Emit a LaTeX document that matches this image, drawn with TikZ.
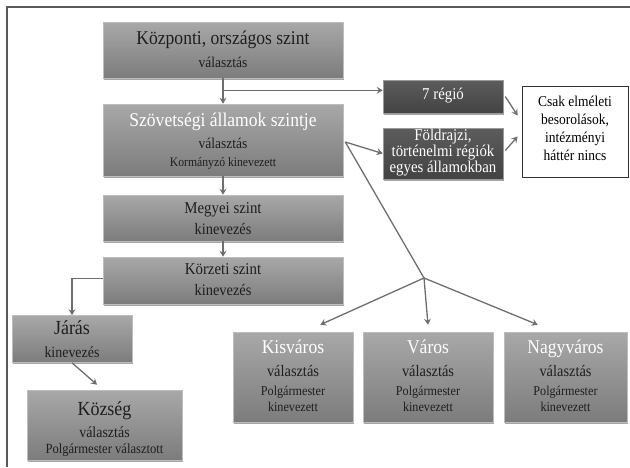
\documentclass[tikz,border=0pt]{standalone}
\usepackage{fontspec}
\setmainfont[FakeStretch=0.9]{Liberation Serif}
\usetikzlibrary{arrows.meta,shadows,calc}
\definecolor{boxtop}{HTML}{A8A8A8}
\definecolor{boxbot}{HTML}{7C7C7C}
\definecolor{boxline}{HTML}{BDBDBD}
\definecolor{dktop}{HTML}{5C5C5C}
\definecolor{dkbot}{HTML}{434343}
\definecolor{dkline}{HTML}{9A9A9A}
\definecolor{conn}{HTML}{6E6E6E}
\definecolor{txt}{HTML}{1E1E1E}
\definecolor{framec}{HTML}{5A5A5A}
\tikzset{
  mbox/.style={rectangle, inner sep=0pt, draw=boxline, line width=0.6pt,
    top color=boxtop, bottom color=boxbot,
    drop shadow={shadow xshift=1.2pt, shadow yshift=-1.6pt, opacity=0.35, fill=black}},
  dbox/.style={rectangle, inner sep=0pt, draw=dkline, line width=0.6pt,
    top color=dktop, bottom color=dkbot,
    drop shadow={shadow xshift=1.2pt, shadow yshift=-1.6pt, opacity=0.35, fill=black}},
  wbox/.style={rectangle, inner sep=0pt, draw=black!80, line width=0.8pt, fill=white},
  lbl/.style={inner sep=0pt, text=txt, align=center, anchor=base},
  wlbl/.style={inner sep=0pt, text=white, align=center, anchor=base},
  fA/.style={font=\fontsize{19.5}{22}\selectfont},
  fB/.style={font=\fontsize{15}{17}\selectfont},
  fC/.style={font=\fontsize{13}{15.5}\selectfont},
  fM/.style={font=\fontsize{16.5}{18}\selectfont},
  fK/.style={font=\fontsize{16}{18}\selectfont},
  link/.style={draw=conn, line width=1.3pt},
  arr/.style={link, -{Stealth[length=6pt,width=7pt,inset=2.2pt]}},
  framel/.style={draw=framec, line width=1.4pt}
}
\begin{document}
\begin{tikzpicture}[x=1pt,y=-1pt]
\useasboundingbox (0,0) rectangle (630,467);
\draw[framel] (630,7) -- (7,7) -- (7,467);

% boxes
\node[mbox, minimum width=240pt, minimum height=56pt] (kozp) at (223,50) {};
\node[mbox, minimum width=240pt, minimum height=72pt] (szov) at (223,140) {};
\node[mbox, minimum width=240pt, minimum height=46pt] (megy) at (223,218) {};
\node[mbox, minimum width=240pt, minimum height=47pt] (korz) at (223,280.5) {};
\node[mbox, minimum width=120pt, minimum height=47pt] (jaras) at (72,339) {};
\node[mbox, minimum width=155pt, minimum height=70pt] (kozseg) at (104.5,425) {};
\node[dbox, minimum width=120pt, minimum height=33pt] (regio7) at (443,96.5) {};
\node[dbox, minimum width=120pt, minimum height=51pt] (foldr) at (443,153.5) {};
\node[wbox, minimum width=106pt, minimum height=91pt] (csak) at (575,131.5) {};
\node[mbox, minimum width=120pt, minimum height=90pt] (kis) at (293,377) {};
\node[mbox, minimum width=130pt, minimum height=90pt] (varos) at (428,377) {};
\node[mbox, minimum width=123pt, minimum height=90pt] (nagy) at (565.5,377) {};

% texts (placed at baselines)
\node[lbl, fA] (kozp-a) at (223,44) {Központi, országos szint};
\node[lbl, fB] (kozp-b) at (223,67) {választás};
\node[wlbl, fA] (szov-a) at (223,126) {Szövetségi államok szintje};
\node[lbl, fB] (szov-b) at (223,148) {választás};
\node[lbl, fC] (szov-c) at (223,166) {Kormányzó kinevezett};
\node[lbl, fM] (megy-a) at (223,213) {Megyei szint};
\node[lbl, fK] (megy-b) at (223,234) {kinevezés};
\node[lbl, fM] (korz-a) at (223,274) {Körzeti szint};
\node[lbl, fK] (korz-b) at (223,295) {kinevezés};
\node[lbl, font=\fontsize{20}{22}\selectfont] (jaras-a) at (72,334) {Járás};
\node[lbl, font=\fontsize{15.5}{17}\selectfont] (jaras-b) at (72,357) {kinevezés};
\node[lbl, font=\fontsize{20}{22}\selectfont] (kozseg-a) at (104.5,415) {Község};
\node[lbl, font=\fontsize{15.5}{17}\selectfont] (kozseg-b) at (104.5,437) {választás};
\node[lbl, font=\fontsize{14}{16}\selectfont] (kozseg-c) at (104.5,453) {Polgármester választott};
\node[wlbl, font=\fontsize{16.5}{18}\selectfont, anchor=center] (regio7-a) at (443,96) {7 régió};
\node[wlbl, font=\fontsize{16.5}{14.5}\selectfont, anchor=center] (foldr-a) at (443,153) {Földrajzi,\\történelmi régiók\\egyes államokban};
\node[lbl, text=black, font=\fontsize{15}{18}\selectfont, anchor=center] (csak-a) at (575,128) {Csak elméleti\\besorolások,\\intézményi\\háttér nincs};
\foreach \b/\t in {kis/Kisváros, varos/Város, nagy/Nagyváros}{
  \node[wlbl, font=\fontsize{19.5}{22}\selectfont] (\b-a) at ($(\b)+(0,-24)$) {\t};
  \node[lbl, font=\fontsize{16}{18}\selectfont] (\b-b) at ($(\b)+(0,-1)$) {választás};
  \node[lbl, font=\fontsize{13.5}{16}\selectfont] (\b-c) at ($(\b)+(0,18)$) {Polgármester};
  \node[lbl, font=\fontsize{13.5}{16}\selectfont] (\b-d) at ($(\b)+(0,34)$) {kinevezett};
}

% connectors
\coordinate (br) at ($(kozp.south)+(0,12)$);
\coordinate (sz) at ($(szov.east)+(2,2)$);
\coordinate (fork) at (424,278);
\draw[arr] (kozp.south) -- (szov.north);
\draw[arr] (br) -- (br -| regio7.west);
\draw[arr] (szov.south) -- (megy.north);
\draw[arr] (megy.south) -- (korz.north);
\draw[arr] ([yshift=2pt]korz.west) -| (jaras.north);
\draw[arr] (jaras.south) -- ($(kozseg.north)+(-7.5,-5)$);
\draw[arr] (sz) -- (foldr.west);
\draw[link] (sz) -- (fork);
\draw[arr] (fork) -- ($(kis.north east)+(-33,-7)$);
\draw[arr] (fork) -- ($(varos.north)+(0,-7)$);
\draw[arr] (fork) -- ($(nagy.north west)+(34,-7)$);
\draw[arr] ($(regio7.east)+(2,0)$) -- ($(csak.west)+(-4,-16)$);
\draw[arr] ($(foldr.east)+(2,-3)$) -- ($(csak.west)+(-4,5)$);
\end{tikzpicture}
\end{document}
